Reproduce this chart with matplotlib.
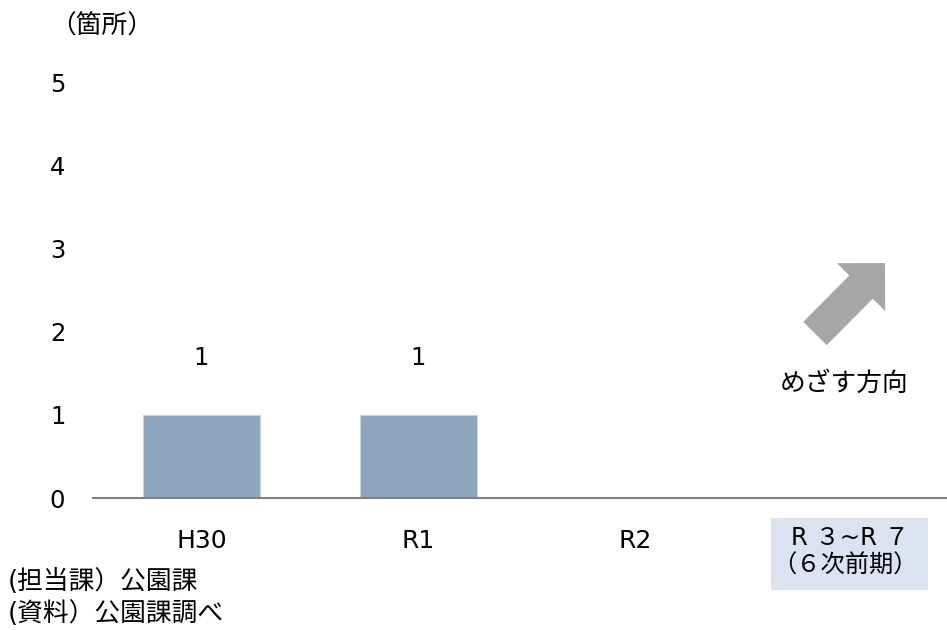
import numpy as np
import matplotlib.pyplot as plt
from matplotlib.patches import FancyArrow, Rectangle
from matplotlib.transforms import IdentityTransform

plt.rcParams['font.family'] = ['DejaVu Sans', 'Noto Sans CJK JP']

categories = ["H30", "R1", "R2", "R ３~R ７\n（６次前期）"]
values = [1, 1, None, None]
yticks = [0, 1, 2, 3, 4, 5]

fig = plt.figure(figsize=(9.47, 6.3), dpi=100)
ax = fig.add_axes([93 / 947, 132 / 630, 854 / 947, 416 / 630])

x = np.arange(len(categories))
for i, v in enumerate(values):
    if v is None:
        continue
    ax.bar(x[i], v, width=0.54, color="#8EA5BF", edgecolor="#C5D3E2", linewidth=0.8)
    ax.annotate(str(v), (x[i], v), xytext=(0, 41), textcoords="offset points",
                ha="center", va="center", fontsize=17.5)

ax.set_xlim(-0.5, 3.44)
ax.set_ylim(0, 5)
ax.set_yticks(yticks)
ax.set_yticklabels([str(t) for t in yticks], fontsize=17.5)
ax.set_xticks(x[:3])
ax.set_xticklabels(categories[:3], fontsize=18)
ax.tick_params(axis="y", length=0, pad=20)
ax.tick_params(axis="x", length=0, pad=22)
for s in ["top", "right", "left"]:
    ax.spines[s].set_visible(False)
ax.spines["bottom"].set_color("#808080")
ax.spines["bottom"].set_linewidth(1.5)

# last category label with shaded box
tr = IdentityTransform()
fig.patches.append(Rectangle((771, 630 - 590), 157, 72, transform=tr,
                             facecolor="#DAE3EF", edgecolor="none"))
lab = categories[3].split("\n")
fig.text(850 / 947, 1 - 538 / 630, lab[0], ha="center", va="center", fontsize=17.5)
fig.text(845 / 947, 1 - 566 / 630, lab[1], ha="center", va="center", fontsize=17.5)

# direction arrow
fig.patches.append(FancyArrow(815, 630 - 333.5, 70, 70.5, width=33, head_width=68,
                              head_length=34, length_includes_head=True,
                              transform=tr, color="#A6A6A6", linewidth=0))
fig.text(844 / 947, 1 - 384 / 630, "めざす方向", ha="center", va="center", fontsize=18.5)

fig.text(102 / 947, 1 - 27 / 630, "（箇所）", ha="center", va="center", fontsize=18.5)
fig.text(8 / 947, 1 - 582 / 630, "(担当課）公園課", ha="left", va="center", fontsize=18.5)
fig.text(8 / 947, 1 - 614 / 630, "(資料）公園課調べ", ha="left", va="center", fontsize=18.5)

fig.savefig("out.png", dpi=100)
